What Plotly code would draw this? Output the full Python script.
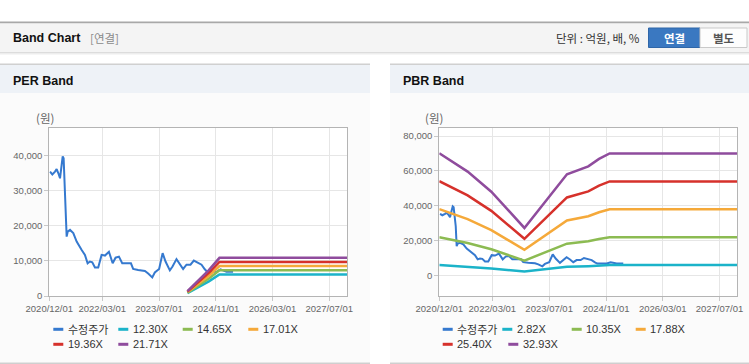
import plotly.graph_objects as go

W, H = 749, 364

# ---------------- data ----------------
price_dates = [
    "2020-12-07", "2020-12-27", "2021-01-19", "2021-02-02", "2021-02-16", "2021-03-03",
    "2021-03-17", "2021-03-26", "2021-04-03", "2021-04-09", "2021-04-21", "2021-04-29",
    "2021-05-08", "2021-05-28", "2021-06-25", "2021-07-24", "2021-09-05", "2021-10-03",
    "2021-10-26", "2021-11-15", "2021-12-05", "2021-12-28", "2022-01-25", "2022-02-23",
    "2022-03-24", "2022-04-27", "2022-05-29", "2022-06-23", "2022-07-22", "2022-08-19",
    "2022-11-02", "2022-11-21", "2023-01-03", "2023-03-02", "2023-03-30", "2023-05-04",
    "2023-05-26", "2023-07-02", "2023-08-01", "2023-08-26", "2023-10-02", "2023-10-25",
    "2023-11-28", "2023-12-27", "2024-01-24", "2024-02-22", "2024-03-27", "2024-04-25",
    "2024-06-01", "2024-06-30", "2024-07-28", "2024-08-17", "2024-11-06", "2024-12-10",
    "2025-01-30", "2025-03-28",
]
price_values = [
    35400, 34600, 35400, 36100, 35000, 33500,
    37300, 39700, 39200, 34500, 28300, 16900,
    18300, 18800, 17900, 15500, 13100, 11700,
    9300, 9800, 9600, 8100, 8100, 11700,
    11500, 12600, 9300, 10900, 11200, 9300,
    9300, 7700, 7400, 7100, 6400, 5300,
    6700, 7700, 12200, 9800, 7300, 8400,
    10500, 9200, 7700, 8900, 8900, 10100,
    9300, 8900, 7600, 6900, 6900, 7600,
    6900, 6900,
]

per_dates = ["2024-03-01", "2024-06-01", "2024-09-01", "2024-12-01", "2027-12-01"]
per_names = ["12.30X", "14.65X", "17.01X", "19.36X", "21.71X"]
per_1230 = [800, 2460, 4180, 6150, 6150]
per_1465 = [950, 2930, 4980, 7330, 7330]
per_1701 = [1110, 3400, 5780, 8510, 8510]
per_1936 = [1260, 3870, 6580, 9680, 9680]
per_2171 = [1410, 4340, 7380, 10860, 10860]

pbr_dates = ["2020-12-01", "2021-08-01", "2022-02-20", "2022-12-01", "2023-12-01",
             "2024-06-01", "2024-09-01", "2024-12-01", "2027-12-01"]
pbr_names = ["2.82X", "10.35X", "17.88X", "25.40X", "32.93X"]
pbr_282 = [6000, 5100, 4100, 2300, 5000, 5400, 5700, 6000, 6000]
pbr_1035 = [22000, 18700, 15100, 8600, 18300, 19700, 21000, 22000, 22000]
pbr_1788 = [38100, 32400, 26100, 14800, 31600, 34000, 36300, 38000, 38000]
pbr_2540 = [54100, 46000, 37100, 21100, 44800, 48300, 51600, 54000, 54000]
pbr_3293 = [70100, 59600, 48100, 27300, 58100, 62600, 66900, 70000, 70000]

price_name = "수정주가"
x_tickvals = ["2020-12-01", "2022-03-01", "2023-07-01", "2024-11-01", "2026-03-01", "2027-07-01"]
x_ticktext = ["2020/12/01", "2022/03/01", "2023/07/01", "2024/11/01", "2026/03/01", "2027/07/01"]
x_range = ["2020-12-01", "2027-12-01"]
per_ytick = [0, 10000, 20000, 30000, 40000]
pbr_ytick = [0, 20000, 40000, 60000, 80000]

price_color = "#3579cf"
band_colors = ["#1bb3c9", "#8cbb52", "#f5a93a", "#d6312b", "#8f4c9d"]

FONT = "Liberation Sans, Arial, Noto Sans CJK KR, sans-serif"
KFONT = "Noto Sans CJK KR, Liberation Sans, sans-serif"


def X(px):
    return px / W


def Y(py):
    return 1 - py / H


fig = go.Figure()

# PER chart
fig.add_trace(go.Scatter(x=price_dates, y=price_values, mode="lines", name=price_name,
                         line=dict(color=price_color, width=2), xaxis="x", yaxis="y"))
for nm, vals, col in zip(per_names, [per_1230, per_1465, per_1701, per_1936, per_2171], band_colors):
    fig.add_trace(go.Scatter(x=per_dates, y=vals, mode="lines", name=nm,
                             line=dict(color=col, width=2.5), xaxis="x", yaxis="y"))

# PBR chart
fig.add_trace(go.Scatter(x=price_dates, y=price_values, mode="lines", name=price_name,
                         line=dict(color=price_color, width=2), xaxis="x2", yaxis="y2"))
for nm, vals, col in zip(pbr_names, [pbr_282, pbr_1035, pbr_1788, pbr_2540, pbr_3293], band_colors):
    fig.add_trace(go.Scatter(x=pbr_dates, y=vals, mode="lines", name=nm,
                             line=dict(color=col, width=2.5), xaxis="x2", yaxis="y2"))

ydom = [Y(296), Y(128)]
common_x = dict(type="date", range=x_range, tickvals=x_tickvals, ticktext=x_ticktext,
                showgrid=True, gridcolor="#e6e6e6", gridwidth=1,
                showline=True, linecolor="#b4b4b4", linewidth=1, mirror=True,
                ticks="outside", ticklen=4, tickcolor="#c8c8c8", automargin=False,
                tickfont=dict(family=FONT, size=9.5, color="#666666"), zeroline=False,
                fixedrange=True)
common_y = dict(showgrid=True, gridcolor="#e6e6e6", gridwidth=1,
                showline=True, linecolor="#b4b4b4", linewidth=1, mirror=True,
                ticks="outside", ticklen=4, tickcolor="#c8c8c8", tickformat=",d",
                tickfont=dict(family=FONT, size=9.5, color="#666666"), zeroline=False,
                fixedrange=True, automargin=False)

fig.update_layout(
    width=W, height=H, autosize=False,
    margin=dict(l=0, r=0, t=0, b=0, pad=0, autoexpand=False),
    paper_bgcolor="white", plot_bgcolor="rgba(0,0,0,0)",
    showlegend=False, hovermode=False,
    xaxis=dict(domain=[X(49.3), X(347)], anchor="y", **common_x),
    yaxis=dict(domain=ydom, anchor="x", range=[0, 47800], tickvals=per_ytick, **common_y),
    xaxis2=dict(domain=[X(439.3), X(737.3)], anchor="y2", **common_x),
    yaxis2=dict(domain=ydom, anchor="x2", range=[-11700, 84600], tickvals=pbr_ytick, **common_y),
)

shapes = []


def rect(x0, y0, x1, y1, fill, line=None, lw=0):
    shapes.append(dict(type="rect", xref="paper", yref="paper", layer="below",
                       x0=X(x0), x1=X(x1), y0=Y(y1), y1=Y(y0), fillcolor=fill,
                       line=dict(width=lw, color=line or fill)))


# top header
rect(0, 21.5, W, 23.5, "#a8a8a8")
rect(0, 23.5, W, 52, "#f4f4f4")
rect(0, 52, W, 53, "#dcdcdc")
rect(0, 53, W, 54.5, "#ededed")
# buttons
rect(648.5, 28, 700, 47.5, "#3a78c1", "#2f66a8", 1)
rect(700, 28, 747, 47.5, "#fdfdfd", "#c9c9c9", 1)

# panels
for (px0, px1) in [(0, 370), (390, W)]:
    rect(px0, 63.5, px1, 65, "#d0d0d0")
    rect(px0, 65, px1, 93, "#eef2f7")
    rect(px0, 93, px1, 362.5, "#fbfbfb")
    rect(px0, 362.5, px1, 364, "#cfcfcf")

# plot area backgrounds
rect(49.3, 128, 347, 296, "#ffffff")
rect(439.3, 128, 737.3, 296, "#ffffff")

annotations = []


def text(x, y, s, size=11, color="#333", anchor="left", bold=False, family=FONT):
    if bold:
        s = "<b>" + s + "</b>"
    annotations.append(dict(xref="paper", yref="paper", x=X(x), y=Y(y), text=s,
                            showarrow=False, xanchor=anchor, yanchor="middle",
                            font=dict(family=family, size=size, color=color)))


text(10.5, 38.5, "Band Chart", size=12.5, color="#111", bold=True)
text(87.5, 38.5, "[연결]", size=11.5, color="#8a8a8a", family=KFONT)
text(642, 38.5, "단위 : 억원, 배, %", size=11.5, color="#333", anchor="right", family=KFONT)
text(674, 37.8, "연결", size=11.5, color="#ffffff", anchor="center", bold=True, family=KFONT)
text(723.5, 37.8, "별도", size=11.5, color="#555555", anchor="center", bold=True, family=KFONT)

text(11, 80.5, "PER Band", size=12.5, color="#111", bold=True)
text(401, 80.5, "PBR Band", size=12.5, color="#111", bold=True)
text(44.5, 118, "(원)", size=11.5, color="#666", anchor="center", family=KFONT)
text(434.5, 118, "(원)", size=11.5, color="#666", anchor="center", family=KFONT)

# legends (drawn from names/colors)
per_leg = [(53.3, 329.3), (118.3, 329.3), (182.7, 329.3), (248.3, 329.3), (53.3, 344.3), (118.3, 344.3)]
pbr_leg = [(442.7, 329.3), (502.3, 329.3), (571.7, 329.3), (635.7, 329.3), (442.7, 344.3), (508.3, 344.3)]
for legpos, names in [(per_leg, [price_name] + per_names), (pbr_leg, [price_name] + pbr_names)]:
    cols = [price_color] + band_colors
    for (lx, ly), nm, col in zip(legpos, names, cols):
        shapes.append(dict(type="line", xref="paper", yref="paper", layer="above",
                           x0=X(lx), x1=X(lx + 10), y0=Y(ly), y1=Y(ly),
                           line=dict(color=col, width=3)))
        text(lx + 12.5, ly, nm, size=11, color="#333",
             family=KFONT if nm == price_name else FONT)

fig.update_layout(shapes=shapes, annotations=annotations)

fig.write_html("out.html", config={"displayModeBar": False, "staticPlot": True},
               post_script="document.body.style.margin='0';document.body.style.overflow='hidden';")
